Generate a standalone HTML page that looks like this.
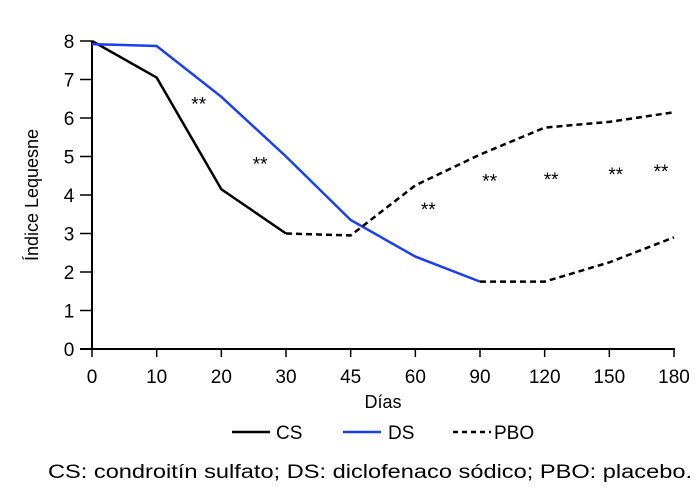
<!DOCTYPE html>
<html><head><meta charset="utf-8"><style>
body{margin:0;background:#fff;width:700px;height:496px;overflow:hidden;font-family:"Liberation Sans",sans-serif}
svg text{font-family:"Liberation Sans",sans-serif;fill:#000}
</style></head><body>
<svg id="chart" width="700" height="496" xmlns="http://www.w3.org/2000/svg"></svg>
<script>
const categories=["0","10","20","30","45","60","90","120","150","180"];
const yTicks=[0,1,2,3,4,5,6,7,8];
const csSolid=[8,7.05,4.15,3.0];
const dsSolid=[7.92,7.87,6.55,5.0,3.35,2.4,1.75];
const pboCS=[3.0,2.95,4.25,5.05,5.75,5.9,6.15];
const pboDS=[1.75,1.75,2.25,2.9];
const stars=[[1.65,6.45],[2.6,4.9],[5.2,3.72],[6.15,4.45],[7.1,4.5],[8.1,4.62],[8.8,4.7]];
const svg=document.getElementById('chart');
const NS='http://www.w3.org/2000/svg';
const x0=92,x1=674,y0=349,y8=41;
const X=i=>x0+i*(x1-x0)/(categories.length-1);
const Y=v=>y0-v*(y0-y8)/8;
function mk(t,a,p){const e=document.createElementNS(NS,t);for(const k in a)e.setAttribute(k,a[k]);(p||svg).appendChild(e);return e;}
let e;
e=mk('line',{x1:x0,y1:Y(8),x2:x0,y2:y0,stroke:'#000','stroke-width':2});


e=mk('line',{x1:80,y1:y0,x2:x1+1,y2:y0,stroke:'#000','stroke-width':2});


yTicks.forEach(v=>{
 e=mk('line',{x1:80,y1:Y(v),x2:x0,y2:Y(v),stroke:'#000','stroke-width':1.5});
 
 
 e=mk('text',{x:69,y:Y(v)+7,'text-anchor':'middle','font-size':19});e.textContent=v;
 
 
});
categories.forEach((c,i)=>{
 e=mk('line',{x1:X(i),y1:y0,x2:X(i),y2:y0+8,stroke:'#000','stroke-width':1.5});
 
 
 e=mk('text',{x:X(i),y:383,'text-anchor':'middle','font-size':19});e.textContent=c;
 
 
});
function line(vals,start,color,dash,name){
 const pts=vals.map((v,k)=>X(start+k)+','+Y(v)).join(' ');
 const a={points:pts,fill:'none',stroke:color,'stroke-width':2.5};
 if(dash)a['stroke-dasharray']=dash;
 const l=mk('polyline',a);
 
 
}
line(csSolid,0,'#000',null,'cs-line');
line(dsSolid,0,'#1a3ff0',null,'ds-line');
line(pboCS,3,'#000','6,4','pbo-line-cs');
line(pboDS,6,'#000','6,4','pbo-line-ds');
stars.forEach(s=>{
 e=mk('text',{x:X(s[0]),y:Y(s[1])+10,'text-anchor':'middle','font-size':19});e.textContent='**';
 
 
});
e=mk('text',{x:383,y:408,'text-anchor':'middle','font-size':18});e.textContent='Días';


e=mk('text',{x:38,y:195,'text-anchor':'middle','font-size':18,transform:'rotate(-90 38 195)'});e.textContent='Índice Lequesne';


const leg=[['CS','#000',null,232,276],['DS','#1a3ff0',null,343,388],['PBO','#000','5,4',453,494]];
leg.forEach(l=>{
 const a={x1:l[3],y1:432,x2:l[3]+38,y2:432,stroke:l[1],'stroke-width':2.5};
 if(l[2])a['stroke-dasharray']=l[2];
 e=mk('line',a);
 
 
 e=mk('text',{x:l[4],y:439,'font-size':19});e.textContent=l[0];
 
 
});
e=mk('text',{x:48,y:478,'font-size':19,textLength:644,lengthAdjust:'spacingAndGlyphs'});e.textContent='CS: condroitín sulfato; DS: diclofenaco sódico; PBO: placebo.';


</script>
</body></html>
